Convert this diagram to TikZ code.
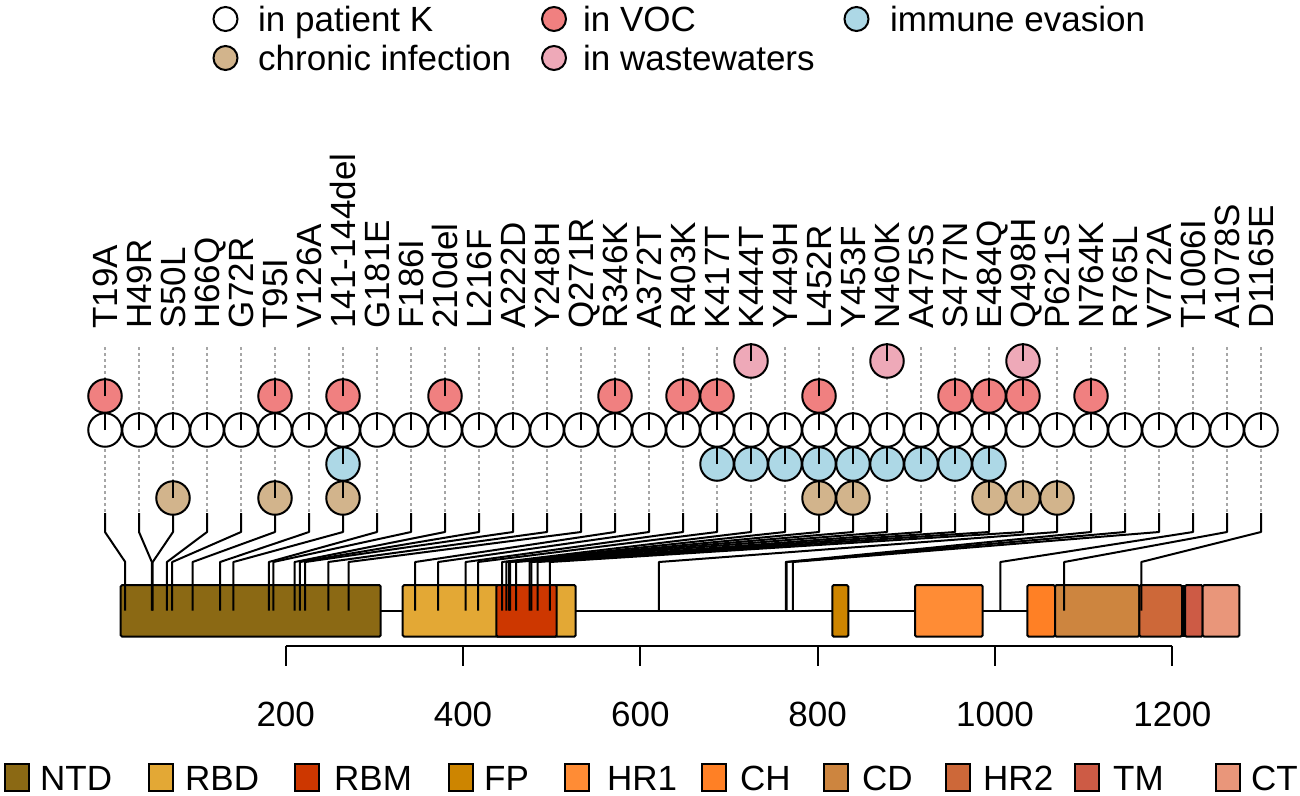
\documentclass[tikz,border=0pt]{standalone}
\usepackage{fontspec}
\setmainfont{Liberation Sans}
\definecolor{cNTD}{HTML}{8B6914}
\definecolor{cRBD}{HTML}{E3A835}
\definecolor{cRBM}{HTML}{CD3700}
\definecolor{cFP}{HTML}{CD8500}
\definecolor{cHRone}{HTML}{FF8C35}
\definecolor{cCH}{HTML}{FF8025}
\definecolor{cCD}{HTML}{CD853F}
\definecolor{cHRtwo}{HTML}{CD6839}
\definecolor{cTM}{HTML}{CD5B45}
\definecolor{cCT}{HTML}{E9967A}
\definecolor{cVOC}{HTML}{F08080}
\definecolor{cImm}{HTML}{ADD8E6}
\definecolor{cChr}{HTML}{D2B48C}
\definecolor{cWW}{HTML}{EEA9B8}
\newcommand{\bigfs}{\fontsize{35}{40}\selectfont}
\begin{document}
\begin{tikzpicture}[x=1pt,y=-1pt,
  txt/.style={font=\bigfs, inner sep=0pt, text height=25pt, text depth=0pt},
  lolli/.style={circle, draw=black, line width=2pt, minimum size=33.5pt, inner sep=0pt},
  legdot/.style={circle, draw=black, line width=2pt, minimum size=24pt, inner sep=0pt},
  legsq/.style={draw=black, line width=2pt, minimum width=24pt, minimum height=27pt, inner sep=0pt},
  tickln/.style={line width=2pt, black},
  stem/.style={line width=2pt, black, line join=round},
  dotline/.style={line width=1.3pt, gray!70, dash pattern=on 3pt off 3pt},
  dom/.style={draw=black, line width=2pt, rounded corners=1.5pt},
  axisln/.style={line width=2pt, black}]
\useasboundingbox (0,0) rectangle (1300,795);

% ---------- top legend ----------
\node[legdot, fill=white] (lgK) at (225.5,19) {};
\node[txt, anchor=base west] (lgKt) at (258,31.5) {in patient K};
\node[legdot, fill=cVOC] (lgV) at (554,19) {};
\node[txt, anchor=base west] (lgVt) at (583,31.5) {in VOC};
\node[legdot, fill=cImm] (lgI) at (856.5,19) {};
\node[txt, anchor=base west] (lgIt) at (890,31.5) {immune evasion};
\node[legdot, fill=cChr] (lgC) at (225.5,58) {};
\node[txt, anchor=base west] (lgCt) at (258,70.5) {chronic infection};
\node[legdot, fill=cWW] (lgW) at (554,58) {};
\node[txt, anchor=base west] (lgWt) at (583,70.5) {in wastewaters};

% ---------- backbone and domains ----------
\coordinate (bbL) at (121,610.5);
\coordinate (bbR) at (1237,610.5);
\draw[line width=2pt] (bbL) -- (bbR);
\draw[dom, fill=cNTD] (120.7,585) rectangle (380.7,636.7);
\draw[dom, fill=cRBD] (402.7,585) rectangle (575.7,636.7);
\draw[dom, fill=cRBM] (496.3,585) rectangle (556.7,636.7);
\draw[dom, fill=cFP] (832.3,585) rectangle (848.3,636.7);
\draw[dom, fill=cHRone] (915,585) rectangle (982.7,636.7);
\draw[dom, fill=cCH] (1027.3,585) rectangle (1055,636.7);
\draw[dom, fill=cCD] (1055,585) rectangle (1139.3,636.7);
\draw[dom, fill=cHRtwo] (1139.3,585) rectangle (1182,636.7);
\draw[dom, fill=cTM] (1185,585) rectangle (1202.7,636.7);
\draw[dom, fill=cCT] (1202.7,585) rectangle (1239.3,636.7);
\fill[black] (1181,585) rectangle (1186,636.7);

% ---------- axis ----------
\coordinate (ax200) at (285.7,645.7);
\coordinate (ax1200) at (1172.3,645.7);
\draw[axisln] (ax200) -- (ax1200);
\foreach \v [count=\k from 0] in {200,400,600,800,1000,1200}{
  \pgfmathsetmacro\tx{285.7+177.32*\k}
  \coordinate (tk\k) at (\tx,645.7);
  \draw[axisln] (tk\k) -- ++(0,20);
  \node[txt, anchor=base] (tl\k) at (\tx,726) {\v};
}

% ---------- mutations: labels, dotted guides, stems ----------
\foreach \lab/\pos [count=\n from 0] in {T19A/19, H49R/49, S50L/50, H66Q/66, G72R/72, T95I/95, V126A/126, 141-144del/141, G181E/181, F186I/186, 210del/210, L216F/216, A222D/222, Y248H/248, Q271R/271, R346K/346, A372T/372, R403K/403, K417T/417, K444T/444, Y449H/449, L452R/452, Y453F/453, N460K/460, A475S/475, S477N/477, E484Q/484, Q498H/498, P621S/621, N764K/764, R765L/765, V772A/772, T1006I/1006, A1078S/1078, D1165E/1165}{
  \pgfmathsetmacro\cx{105+34*\n}
  \pgfmathsetmacro\px{108.4+0.8866*\pos}
  \node[txt, rotate=90, anchor=west] (lab\n) at (\cx,329) {\lab};
  \coordinate (dtop\n) at (\cx,347);
  \coordinate (ctop\n) at (\cx,513);
  \coordinate (cbend\n) at (\cx,532);
  \coordinate (pbend\n) at (\px,562);
  \coordinate (pbot\n) at (\px,610.5);
  \draw[dotline] (dtop\n) -- (ctop\n);
  \draw[stem] (ctop\n) -- (cbend\n) -- (pbend\n) -- (pbot\n);
}

% ---------- circles ----------
\foreach \n in {0,...,34}{
  \node[lolli, fill=white] (w\n) at ({105+34*\n},430) {};
  \draw[tickln] (w\n.center) -- (w\n.north);
}
\foreach \n in {0,5,7,10,15,17,18,21,25,26,27,29}{
  \node[lolli, fill=cVOC] (r\n) at ({105+34*\n},396) {};
  \draw[tickln] (r\n.center) -- (r\n.north);
}
\foreach \n in {19,23,27}{
  \node[lolli, fill=cWW] (p\n) at ({105+34*\n},361) {};
  \draw[tickln] (p\n.center) -- (p\n.north);
}
\foreach \n in {7,18,19,20,21,22,23,24,25,26}{
  \node[lolli, fill=cImm] (b\n) at ({105+34*\n},464) {};
  \draw[tickln] (b\n.center) -- (b\n.north);
}
\foreach \n in {2,5,7,21,22,26,27,28}{
  \node[lolli, fill=cChr] (t\n) at ({105+34*\n},498) {};
  \draw[tickln] (t\n.center) -- (t\n.north);
}

% ---------- bottom legend ----------
\foreach \nm/\col/\sx/\tx [count=\k] in {NTD/cNTD/4/40, RBD/cRBD/147.6/185, RBM/cRBM/294/334, FP/cFP/448/484, HR1/cHRone/564/607, CH/cCH/700.7/740, CD/cCD/822.5/862, HR2/cHRtwo/945/983, TM/cTM/1074/1113, CT/cCT/1215/1251}{
  \node[legsq, fill=\col, anchor=west] (sq\k) at (\sx,777) {};
  \node[txt, anchor=base west] (sqt\k) at (\tx,790) {\nm};
}
\end{tikzpicture}
\end{document}
